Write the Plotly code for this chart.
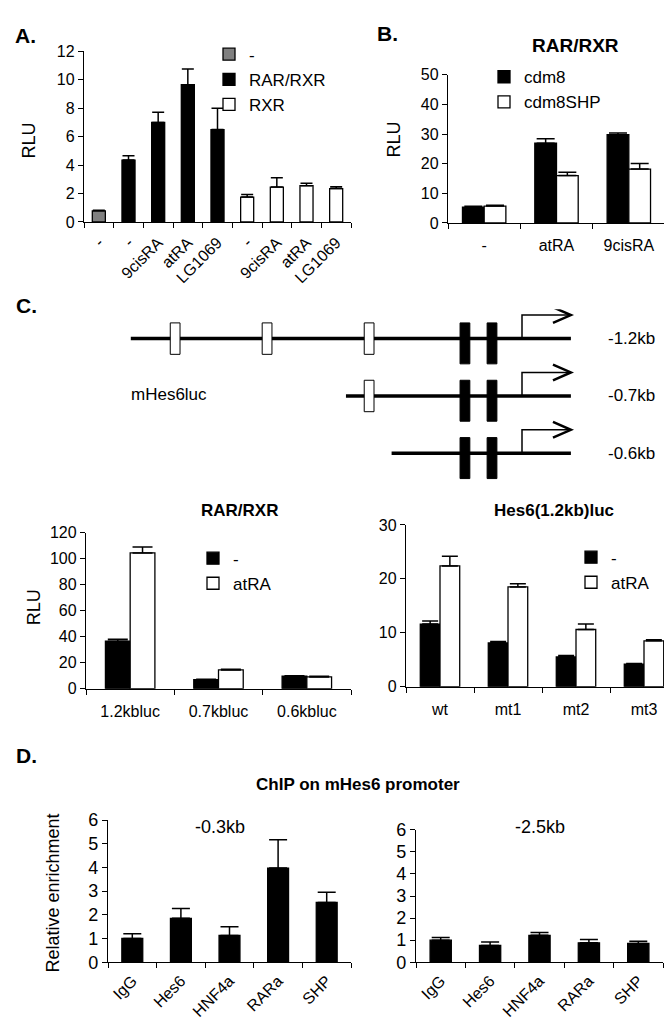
import plotly.graph_objects as go

W, H = 672, 1024
FONT = "Liberation Sans, Arial, sans-serif"

# ---------------- data ----------------
# Panel A
A_cats = ["-", "-", "9cisRA", "atRA", "LG1069", "-", "9cisRA", "atRA", "LG1069"]
A_series = ["-", "RAR/RXR", "RXR"]
A_ctrl_idx = [0]
A_ctrl = [0.78]
A_ctrl_err = [0.04]
A_rar_idx = [1, 2, 3, 4]
A_rar = [4.35, 7.0, 9.65, 6.5]
A_rar_err = [0.3, 0.72, 1.1, 1.5]
A_rxr_idx = [5, 6, 7, 8]
A_rxr = [1.75, 2.45, 2.55, 2.35]
A_rxr_err = [0.18, 0.65, 0.18, 0.12]
A_yticks = [0, 2, 4, 6, 8, 10, 12]

# Panel B
B_cats = ["-", "atRA", "9cisRA"]
B_series = ["cdm8", "cdm8SHP"]
B_cdm8 = [5.3, 26.9, 29.8]
B_cdm8_err = [0.3, 1.5, 0.6]
B_shp = [5.7, 16.0, 18.2]
B_shp_err = [0.3, 1.1, 1.9]
B_yticks = [0, 10, 20, 30, 40, 50]

# Panel C diagram
C_rows = [0, 1, 2]
C_row_labels = ["-1.2kb", "-0.7kb", "-0.6kb"]
C_start_bp = [-1200, -540, -400]
C_end_bp = 150
C_open_sites = [[-1064, -782, -469], [-469], []]
C_black_sites = [-175, -92]

# Panel C left
CL_cats = ["1.2kbluc", "0.7kbluc", "0.6kbluc"]
CL_series = ["-", "atRA"]
CL_ctrl = [36.5, 7.0, 9.7]
CL_ctrl_err = [1.5, 0.3, 0.2]
CL_atra = [104.5, 14.4, 9.0]
CL_atra_err = [4.5, 0.5, 0.5]
CL_yticks = [0, 20, 40, 60, 80, 100, 120]

# Panel C right
CR_cats = ["wt", "mt1", "mt2", "mt3"]
CR_ctrl = [11.6, 8.1, 5.5, 4.2]
CR_ctrl_err = [0.6, 0.3, 0.3, 0.1]
CR_atra = [22.4, 18.5, 10.6, 8.5]
CR_atra_err = [1.8, 0.6, 1.0, 0.2]
CR_yticks = [0, 10, 20, 30]

# Panel D
D_cats = ["IgG", "Hes6", "HNF4a", "RARa", "SHP"]
D_03 = [1.0, 1.85, 1.13, 3.97, 2.52]
D_03_err = [0.2, 0.42, 0.37, 1.2, 0.43]
D_25 = [1.0, 0.76, 1.22, 0.88, 0.85]
D_25_err = [0.12, 0.15, 0.13, 0.15, 0.1]
D_yticks = [0, 1, 2, 3, 4, 5, 6]

# ---------------- helpers ----------------
def xd(a, b):
    return [a / W, b / W]

def yd(top, bot):
    return [1 - bot / H, 1 - top / H]

fig = go.Figure()
layout = dict(
    width=W, height=H, autosize=False,
    margin=dict(l=0, r=0, t=0, b=0),
    paper_bgcolor="white", plot_bgcolor="white",
    barmode="overlay",
    font=dict(family=FONT, color="black", size=16),
)

def axes(k, cats, xdom, ydom, yticks, xfs, yfs, angle=0, stand=6):
    n = len(cats)
    xs = "xaxis" if k == 1 else "xaxis%d" % k
    ys = "yaxis" if k == 1 else "yaxis%d" % k
    layout[xs] = dict(
        domain=xdom, anchor="y" if k == 1 else "y%d" % k,
        range=[-0.5, n - 0.5], tickmode="array",
        tickvals=list(range(n)), ticktext=cats, tickangle=angle,
        ticks="outside", ticklen=stand, tickcolor="rgba(0,0,0,0)",
        showline=True, linecolor="black", linewidth=1.3,
        showgrid=False, zeroline=False,
        tickfont=dict(size=xfs, family=FONT, color="black"),
        minor=dict(ticks="outside", tickmode="array",
                   tickvals=[i - 0.5 for i in range(n + 1)],
                   ticklen=5, tickcolor="black", tickwidth=1.3, showgrid=False),
        fixedrange=True,
    )
    layout[ys] = dict(
        domain=ydom, anchor="x" if k == 1 else "x%d" % k,
        range=[yticks[0], yticks[-1]], tickmode="array", tickvals=yticks,
        ticks="outside", ticklen=5, tickcolor="black", tickwidth=1.3,
        showline=True, linecolor="black", linewidth=1.3,
        showgrid=False, zeroline=False,
        tickfont=dict(size=yfs, family=FONT, color="black"),
        fixedrange=True,
    )

def bars(k, idx, vals, err, fill, name, legend, width, offset, cap, show=True):
    fig.add_trace(go.Bar(
        x=idx, y=vals, width=width, offset=offset, name=name,
        marker=dict(color=fill, line=dict(color="black", width=1.3)),
        error_y=dict(type="data", array=err, arrayminus=[0] * len(err),
                     symmetric=False, color="black", thickness=1.5, width=cap),
        xaxis="x" if k == 1 else "x%d" % k,
        yaxis="y" if k == 1 else "y%d" % k,
        legend=legend, showlegend=show,
    ))

# ---------------- Panel A ----------------
axes(1, A_cats, xd(76, 343), yd(34, 208), A_yticks, 16, 16, angle=-45, stand=4)
wA = 0.44
bars(1, A_ctrl_idx, A_ctrl, A_ctrl_err, "#808080", A_series[0], "legend", wA, -wA / 2, 6)
bars(1, A_rar_idx, A_rar, A_rar_err, "black", A_series[1], "legend", wA, -wA / 2, 6)
bars(1, A_rxr_idx, A_rxr, A_rxr_err, "white", A_series[2], "legend", wA, -wA / 2, 6)

# ---------------- Panel B ----------------
axes(2, B_cats, xd(440, 657), yd(58, 209), B_yticks, 16, 16, stand=8)
wB = 0.30
rB = list(range(len(B_cats)))
bars(2, rB, B_cdm8, B_cdm8_err, "black", B_series[0], "legend2", wB, -wB, 9)
bars(2, rB, B_shp, B_shp_err, "white", B_series[1], "legend2", wB, 0, 9)

# ---------------- Panel C left ----------------
axes(3, CL_cats, xd(78, 343), yd(525, 684), CL_yticks, 16, 16, stand=8)
wC = 0.28
rCL = list(range(len(CL_cats)))
bars(3, rCL, CL_ctrl, CL_ctrl_err, "black", CL_series[0], "legend3", wC, -wC, 10)
bars(3, rCL, CL_atra, CL_atra_err, "white", CL_series[1], "legend3", wC, 0, 10)

# ---------------- Panel C right ----------------
axes(4, CR_cats, xd(398, 670), yd(517, 682), CR_yticks, 16, 16, stand=8)
wR = 0.29
rCR = list(range(len(CR_cats)))
bars(4, rCR, CR_ctrl, CR_ctrl_err, "black", CL_series[0], "legend4", wR, -wR, 8)
bars(4, rCR, CR_atra, CR_atra_err, "white", CL_series[1], "legend4", wR, 0, 8)

# ---------------- Panel D ----------------
axes(5, D_cats, xd(100, 343), yd(818, 963), D_yticks, 16, 18, angle=-45, stand=2)
axes(6, D_cats, xd(408, 655), yd(828, 963), D_yticks, 16, 18, angle=-45, stand=2)
wD = 0.43
rD = list(range(len(D_cats)))
bars(5, rD, D_03, D_03_err, "black", "-0.3kb", "legend", wD, -wD / 2, 9, show=False)
bars(6, rD, D_25, D_25_err, "black", "-2.5kb", "legend", wD, -wD / 2, 9, show=False)

# ---------------- Panel C diagram ----------------
TSS_PX, PX_PER_BP = 514, 0.326
ROW0_PX, ROW_PX = 327, 58.5
layout["xaxis7"] = dict(domain=[0, 1], anchor="y7",
                        range=[-TSS_PX / PX_PER_BP, (W - TSS_PX) / PX_PER_BP],
                        visible=False, fixedrange=True)
layout["yaxis7"] = dict(domain=yd(297, 474), anchor="x7",
                        range=[(474 - ROW0_PX) / ROW_PX, (297 - ROW0_PX) / ROW_PX],
                        visible=False, fixedrange=True)
shapes = []
arrow_h = 0.41
head_len = 55
head_h = 0.137
for r, s0, sites in zip(C_rows, C_start_bp, C_open_sites):
    shapes.append(dict(type="line", xref="x7", yref="y7", x0=s0, x1=C_end_bp, y0=r, y1=r,
                       line=dict(color="black", width=3.5)))
    shapes.append(dict(type="path", xref="x7", yref="y7",
                       path="M 0 %g L 0 %g L %g %g" % (r, r - arrow_h, C_end_bp, r - arrow_h),
                       line=dict(color="black", width=1.5)))
    shapes.append(dict(type="path", xref="x7", yref="y7",
                       path="M %g %g L %g %g L %g %g" % (C_end_bp - head_len, r - arrow_h - head_h,
                                                       C_end_bp, r - arrow_h,
                                                       C_end_bp - head_len, r - arrow_h + head_h),
                       line=dict(color="black", width=2.5)))
    for s in sites:
        shapes.append(dict(type="rect", xref="x7", yref="y7", x0=s - 15, x1=s + 15,
                           y0=r - 0.274, y1=r + 0.274, fillcolor="white",
                           line=dict(color="black", width=1)))
    for s in C_black_sites:
        shapes.append(dict(type="rect", xref="x7", yref="y7", x0=s - 15, x1=s + 15,
                           y0=r - 0.274, y1=r + 0.44, fillcolor="black",
                           line=dict(color="black", width=1)))
layout["shapes"] = shapes

# ---------------- legends ----------------
def leg(xpx, ypx, gap=0):
    return dict(x=xpx / W, y=1 - ypx / H, xanchor="left", yanchor="top",
                bgcolor="rgba(0,0,0,0)", borderwidth=0,
                font=dict(size=17, family=FONT, color="black"),
                tracegroupgap=0, itemclick=False)

layout["legend"] = leg(201, 19)
layout["legend2"] = leg(476, 42)
layout["legend3"] = leg(185, 533)
layout["legend4"] = leg(563, 532)

# ---------------- text ----------------
ann = []
def txt(s, xpx, ypx, size, bold=False, xanchor="center", angle=0):
    ann.append(dict(text="<b>%s</b>" % s if bold else s, x=xpx / W, y=1 - ypx / H,
                    xref="paper", yref="paper", showarrow=False, xanchor=xanchor,
                    yanchor="middle", textangle=angle,
                    font=dict(size=size, family=FONT, color="black")))

txt("A.", 5, 18, 21, True, "left")
txt("B.", 367, 16, 21, True, "left")
txt("C.", 6, 293, 21, True, "left")
txt("D.", 6, 752, 21, True, "left")
txt("RAR/RXR", 567, 28, 19, True)
txt("RLU", 21, 125, 18, angle=-90)
txt("RLU", 386, 124, 18, angle=-90)
txt("RLU", 26, 601, 18, angle=-90)
txt("mHes6luc", 121, 384, 17, xanchor="left")
for r, lab in zip(C_rows, C_row_labels):
    txt(lab, 598, ROW0_PX + r * ROW_PX, 17, xanchor="left")
txt("RAR/RXR", 231, 502, 17, True)
txt("Hes6(1.2kb)luc", 546, 502, 17, True)
txt("ChIP on mHes6 promoter", 350, 782, 17, True)
txt("Relative enrichment", 45, 893, 18, angle=-90)
txt("-0.3kb", 212, 825, 18)
txt("-2.5kb", 532, 825, 18)
layout["annotations"] = ann

fig.update_layout(**layout)
fig.write_html("out.html")
